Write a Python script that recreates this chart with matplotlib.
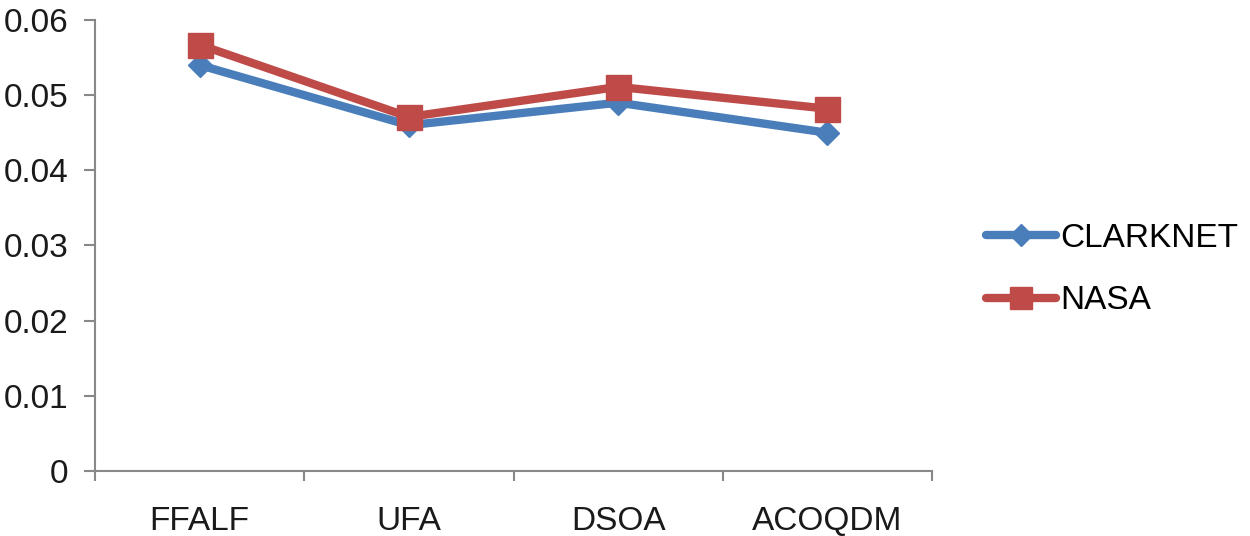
import numpy as np
import matplotlib.pyplot as plt

# Values
methods = ['FFALF', 'UFA', 'DSOA', 'ACOQDM']
clarknet = [0.054, 0.046, 0.049, 0.045]
nasa = [0.0567, 0.0471, 0.0511, 0.0482]
y_ticks = [0, 0.01, 0.02, 0.03, 0.04, 0.05, 0.06]
y_labels = ['0', '0.01', '0.02', '0.03', '0.04', '0.05', '0.06']

plt.rcParams['font.family'] = ['Liberation Sans', 'DejaVu Sans']

fig = plt.figure(figsize=(12.5, 5.36), dpi=100)
ax = fig.add_axes([0.076, 0.1213, 0.6696, 0.8414])

x = np.arange(len(methods))
ax.plot(x, clarknet, color='#4A7EBB', lw=6, marker='D', ms=12,
        solid_capstyle='round', solid_joinstyle='round', label='CLARKNET', zorder=3)
ax.plot(x, nasa, color='#BE4B48', lw=6, marker='s', ms=18,
        solid_capstyle='round', solid_joinstyle='round', label='NASA', zorder=4)

ax.set_xlim(-0.5, len(methods) - 0.5)
ax.set_ylim(0, 0.06)
ax.set_yticks(y_ticks)
ax.set_yticklabels(y_labels)
ax.set_xticks(x)
ax.set_xticklabels(methods)
ax.set_xticks(np.arange(-0.5, len(methods)), minor=True)

ax.tick_params(axis='x', which='major', length=0, pad=25, labelsize=24, colors='#1a1a1a')
ax.tick_params(axis='x', which='minor', length=7, width=1.5, color='#888888')
ax.tick_params(axis='y', length=8, width=1.5, color='#888888', pad=11,
               labelsize=24, labelcolor='#1a1a1a')

for side in ['top', 'right']:
    ax.spines[side].set_visible(False)
for side in ['left', 'bottom']:
    ax.spines[side].set_color('#888888')
    ax.spines[side].set_linewidth(1.5)

fig.legend(loc='center left', bbox_to_anchor=(0.765, 0.497), frameon=False,
           fontsize=24, handlelength=2.1, handletextpad=0.12, labelspacing=0.95,
           markerscale=0.9)

fig.savefig('out.png', dpi=100)
